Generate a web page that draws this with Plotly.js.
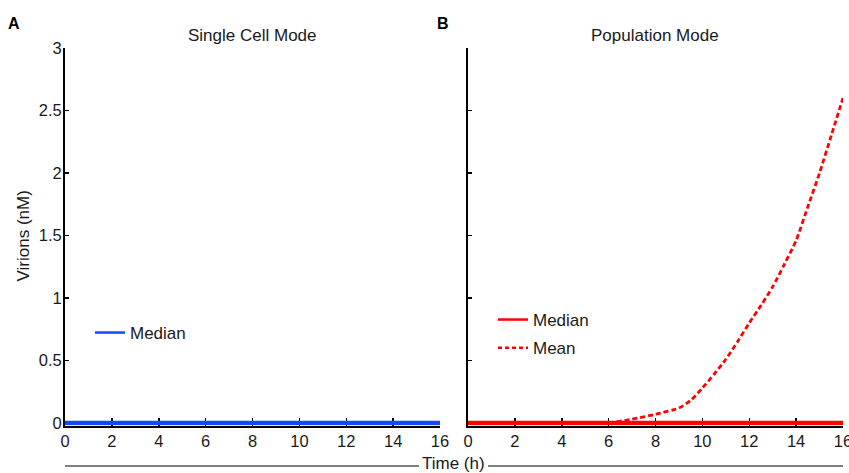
<!DOCTYPE html>
<html>
<head>
<meta charset="utf-8">
<script src="https://cdn.plot.ly/plotly-3.0.1.min.js"></script>
<style>html,body{margin:0;padding:0;background:#fff;}#chart{width:849px;height:473px;}</style>
</head>
<body>
<div id="chart"></div>
<script>
// Data
var timeFull = [0, 16];
var singleMedian = [0, 0];
var popMedian = [0, 0];
var meanTime = [6, 7, 8, 9, 9.5, 10, 10.5, 11, 11.5, 12, 12.5, 13, 13.5, 14, 14.5, 15, 15.5, 16];
var popMean = [0, 0.03, 0.07, 0.12, 0.18, 0.28, 0.39, 0.51, 0.65, 0.8, 0.94, 1.09, 1.27, 1.46, 1.73, 2.0, 2.3, 2.6];
var xTicks = [0, 2, 4, 6, 8, 10, 12, 14, 16];
var yTicks = [0, 0.5, 1, 1.5, 2, 2.5, 3];
var yTickLabels = ['0', '0.5', '1', '1.5', '2', '2.5', '3'];
var legendNames = ['Median', 'Median', 'Mean'];

var fam = 'Liberation Sans, Arial, sans-serif';
var tickFont = {family: fam, size: 16.5, color: '#1a1a1a'};
var textFont = {family: fam, size: 17, color: '#1a1a1a'};

var traces = [
  {x: timeFull, y: singleMedian, mode: 'lines', xaxis: 'x', yaxis: 'y', showlegend: false,
   line: {color: '#1446ff', width: 4.5}},
  {x: timeFull, y: popMedian, mode: 'lines', xaxis: 'x2', yaxis: 'y2', showlegend: false,
   line: {color: '#ff0000', width: 4.5}},
  {x: meanTime, y: popMean, mode: 'lines', xaxis: 'x2', yaxis: 'y2', showlegend: false,
   line: {color: '#ff0000', width: 2.8, dash: '5px,3px', shape: 'spline', smoothing: 0.6}},
  // legend entries (keys only)
  {x: [null], y: [null], mode: 'lines', name: legendNames[0], xaxis: 'x', yaxis: 'y',
   line: {color: '#1446ff', width: 2.5}, legend: 'legend'},
  {x: [null], y: [null], mode: 'lines', name: legendNames[1], xaxis: 'x2', yaxis: 'y2',
   line: {color: '#ff0000', width: 2.5}, legend: 'legend2', legendgroup: 'g1'},
  {x: [null], y: [null], mode: 'lines', name: legendNames[2], xaxis: 'x2', yaxis: 'y2',
   line: {color: '#ff0000', width: 2.5, dash: '4px,3px'}, legend: 'legend2', legendgroup: 'g2'}
];

var W = 849, H = 473;
function px(v){ return v / W; }
function py(v){ return 1 - v / H; }

var axCommon = {
  showline: true, linecolor: '#000', linewidth: 2, mirror: false,
  ticks: 'inside', ticklen: 4, tickwidth: 1.5, tickcolor: '#000',
  showgrid: false, zeroline: false, tickfont: tickFont, layer: 'below traces',
  ticklabeloverflow: 'allow'
};

var yr = [-0.02, 3];
var layout = {
  width: W, height: H,
  margin: {l: 0, r: 0, t: 0, b: 0},
  paper_bgcolor: '#fff', plot_bgcolor: '#fff',
  font: textFont,
  xaxis: Object.assign({}, axCommon, {domain: [px(65), px(440)], range: [0, 16], tickvals: xTicks, ticktext: xTicks.map(String), anchor: 'y', ticklen: 8}),
  yaxis: Object.assign({}, axCommon, {domain: [py(425.5), py(48)], range: yr, tickvals: yTicks, ticktext: yTickLabels, anchor: 'x', ticklabelstandoff: -2}),
  xaxis2: Object.assign({}, axCommon, {domain: [px(468), px(843)], range: [0, 16], tickvals: xTicks, ticktext: xTicks.map(String), anchor: 'y2', ticklen: 8}),
  yaxis2: Object.assign({}, axCommon, {domain: [py(425.5), py(48)], range: yr, tickvals: yTicks, showticklabels: false, anchor: 'x2'}),
  showlegend: true,
  legend: {x: px(90), y: py(315), xanchor: 'left', yanchor: 'top', bgcolor: 'rgba(0,0,0,0)', font: textFont},
  legend2: {x: px(493), y: py(302), xanchor: 'left', yanchor: 'top', bgcolor: 'rgba(0,0,0,0)', font: textFont, tracegroupgap: 3},
  annotations: [
    {text: 'Single Cell Mode', x: px(252.5), y: py(36), xref: 'paper', yref: 'paper', showarrow: false, xanchor: 'center', yanchor: 'middle', font: textFont},
    {text: 'Population Mode', x: px(655), y: py(36), xref: 'paper', yref: 'paper', showarrow: false, xanchor: 'center', yanchor: 'middle', font: textFont},
    {text: '<b>A</b>', x: px(14), y: py(23.5), xref: 'paper', yref: 'paper', showarrow: false, xanchor: 'center', yanchor: 'middle', font: {family: fam, size: 16, color: '#000'}},
    {text: '<b>B</b>', x: px(443), y: py(23.5), xref: 'paper', yref: 'paper', showarrow: false, xanchor: 'center', yanchor: 'middle', font: {family: fam, size: 16, color: '#000'}},
    {text: 'Virions (nM)', x: px(22.5), y: py(236), xref: 'paper', yref: 'paper', showarrow: false, textangle: -90, xanchor: 'center', yanchor: 'middle', font: textFont},
    {text: 'Time (h)', x: px(453.5), y: py(463), xref: 'paper', yref: 'paper', showarrow: false, xanchor: 'center', yanchor: 'middle', font: textFont}
  ],
  shapes: [
    {type: 'line', xref: 'paper', yref: 'paper', x0: px(65), x1: px(419), y0: py(466), y1: py(466), line: {color: '#000', width: 1}},
    {type: 'line', xref: 'paper', yref: 'paper', x0: px(488), x1: px(843), y0: py(466), y1: py(466), line: {color: '#000', width: 1}}
  ]
};

Plotly.newPlot('chart', traces, layout, {displayModeBar: false, staticPlot: true});
</script>
</body>
</html>
